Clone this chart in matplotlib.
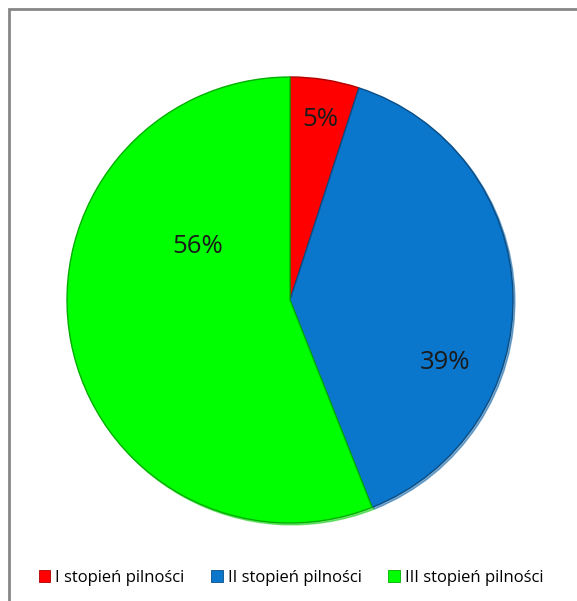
import numpy as np
import matplotlib
matplotlib.use("Agg")
import matplotlib.pyplot as plt
from matplotlib.patches import Rectangle, Patch

plt.rcParams["font.family"] = ["Open Sans", "DejaVu Sans"]

# data
categories = ["I stopień pilności", "II stopień pilności", "III stopień pilności"]
shares = [5, 39, 56]
colors = ["#FF0000", "#0A76CC", "#00FF00"]
edge_colors = ["#B00000", "#0A4E86", "#00B000"]

# label placement (angle in degrees, distance as fraction of radius)
label_angle = [80.6, -21.8, 149.9]
label_dist = [0.82, 0.75, 0.48]

W, H = 577, 601
fig = plt.figure(figsize=(W / 100, H / 100), dpi=100)

# outer frame (top and left edges visible)
fig.patches.append(
    Rectangle((9 / W, -0.1), 1.2, (H - 9) / H + 0.1, transform=fig.transFigure,
              fill=False, edgecolor="#868686", linewidth=2)
)

r_px = 223
cx, cy = 290, 300
ax = fig.add_axes([(cx - r_px) / W, (H - cy - r_px) / H, 2 * r_px / W, 2 * r_px / H])

wedges, _ = ax.pie(
    shares,
    colors=colors,
    startangle=90,
    counterclock=False,
    radius=1.0,
    wedgeprops=dict(linewidth=1.0),
    shadow=dict(ox=0.006, oy=-0.006, shade=0.2, alpha=0.5),
)
for w, ec in zip(wedges, edge_colors):
    w.set_edgecolor(ec)

for val, ang, d in zip(shares, label_angle, label_dist):
    a = np.deg2rad(ang)
    ax.text(d * np.cos(a), d * np.sin(a), f"{val}%", ha="center", va="center",
            fontsize=18.5, color="#1a1a1a")

ax.set_xlim(-1.0, 1.0)
ax.set_ylim(-1.0, 1.0)
ax.set_aspect("equal")
ax.axis("off")

handles = [Patch(facecolor=c, edgecolor=e, linewidth=0.6) for c, e in zip(colors, edge_colors)]
fig.legend(
    handles, categories,
    loc="center", bbox_to_anchor=(291 / W, 1 - 578 / H),
    ncol=3, frameon=False, fontsize=12,
    handlelength=0.7, handleheight=0.7, handletextpad=0.3, columnspacing=1.6,
)

fig.savefig("out.png", dpi=100)
